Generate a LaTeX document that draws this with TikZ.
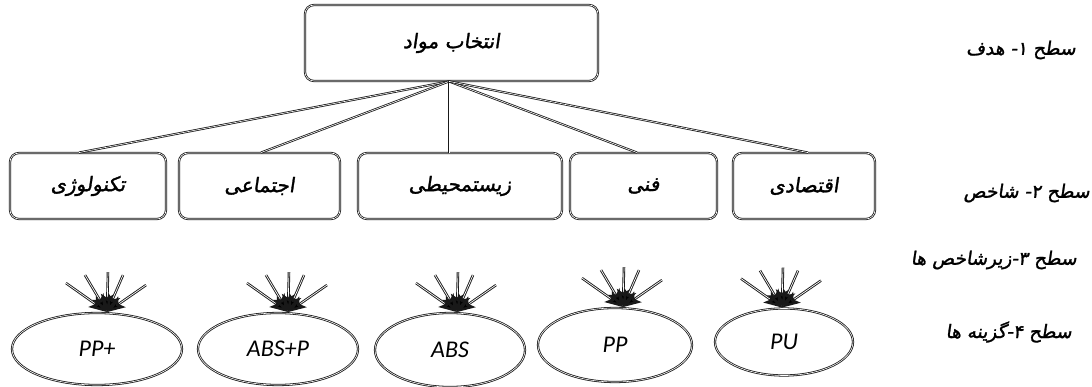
\documentclass[tikz,border=0pt]{standalone}
\usepackage{fontspec}
\usetikzlibrary{shapes.geometric,arrows.meta}
\TeXXeTstate=1
\newfontfamily\fa[Script=Arabic,FakeSlant=0.15,FakeBold=1.5]{DejaVu Sans}
\newfontfamily\lat{Carlito}
\newcommand{\fat}[1]{{\fa\beginR #1\endR}}
\tikzset{
  dl/.style={draw=black!90, double=white, double distance=0.6pt, line width=0.8pt},
  rbox/.style={dl, rounded corners=9pt, inner sep=0pt, font=\fontsize{20}{24}\selectfont},
  oval/.style={dl, ellipse, inner sep=0pt, font=\fontsize{24}{28}\selectfont\lat\itshape},
  conn/.style={dl},
  arr/.style={draw=black!90, line width=2.5pt, -{Stealth[length=18pt,width=13pt,inset=4pt,fill=black]},
    postaction={draw=white, line width=0.7pt, shorten >=15pt, -}},
  lvl/.style={anchor=east, inner sep=0pt, font=\fontsize{18.5}{22}\selectfont}
}
\begin{document}
\begin{tikzpicture}[x=1pt,y=-1pt]
\useasboundingbox (0,0) rectangle (1092,387);
% level 1
\node[rbox, minimum width=293pt, minimum height=76pt] (top) at (451.5,43) {\fat{انتخاب مواد}};
% level 2
\node[rbox, minimum width=156pt, minimum height=66pt] (b1) at (88,186) {\fat{تکنولوژی}};
\node[rbox, minimum width=161pt, minimum height=66pt] (b2) at (259.5,186) {\fat{اجتماعی}};
\node[rbox, minimum width=204pt, minimum height=66pt] (b3) at (460,186) {\fat{زیستمحیطی}};
\node[rbox, minimum width=147pt, minimum height=66pt] (b4) at (643.5,186) {\fat{فنی}};
\node[rbox, minimum width=142pt, minimum height=66pt] (b5) at (804,186) {\fat{اقتصادی}};
\foreach \b/\s in {b1/-9, b2/1.5, b3/-11, b4/-6.5, b5/4}
  \draw[conn] ([xshift=-2.5pt]top.south) -- ([xshift=\s pt]\b.north);
% level 4
\node[oval, minimum width=170pt, minimum height=72pt] (e1) at (97,349) {PP+};
\node[oval, minimum width=160pt, minimum height=72pt] (e2) at (278,349) {ABS+P};
\node[oval, minimum width=150pt, minimum height=74pt] (e3) at (450,350) {ABS};
\node[oval, minimum width=154pt, minimum height=74pt] (e4) at (615,345) {PP};
\node[oval, minimum width=138pt, minimum height=67pt] (e5) at (784,342) {PU};
\foreach \e/\dx in {e1/10, e2/10, e3/7, e4/8, e5/-2}{
  \coordinate (\e t) at ([xshift=\dx pt, yshift=0.5pt]\e.north);
  \foreach \i/\ox/\oy in {1/-41/-29, 2/-22/-37, 3/1/-40, 4/16/-37, 5/39/-27}{
    \coordinate (\e s\i) at ([shift={(\ox,\oy)}]\e t);
    \draw[arr] (\e s\i) -- (\e t);
  }
}
% level labels
\node[lvl] (l1) at (1076,50) {\fat{سطح ۱- هدف}};
\node[lvl] (l2) at (1090,193) {\fat{سطح ۲- شاخص}};
\node[lvl] (l3) at (1077,260) {\fat{سطح ۳-زیرشاخص ها}};
\node[lvl] (l4) at (1072,332) {\fat{سطح ۴-گزینه ها}};
\end{tikzpicture}
\end{document}
